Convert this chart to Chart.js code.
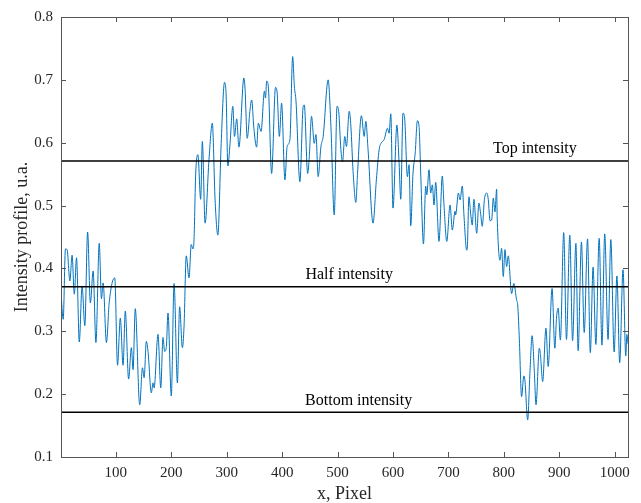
<!DOCTYPE html>
<html>
<head>
<meta charset="utf-8">
<script src="https://cdn.jsdelivr.net/npm/chart.js@4.4.0/dist/chart.umd.min.js"></script>
<style>
  html, body { margin: 0; padding: 0; background: #fff; }
  #wrap { width: 641px; height: 503px; }
</style>
</head>
<body>
<div id="wrap"><canvas id="chart" width="641" height="503"></canvas></div>
<script>
// profile (pixel index, intensity)
const pixelX = [1, 5, 9, 12, 17, 21, 25, 29, 34, 39, 44, 49, 54, 59, 64, 70, 74, 77, 83, 88,
  98, 103, 108, 113, 117, 123, 128, 131, 135, 143, 148, 151, 155, 158, 164, 167, 169, 176, 181, 185,
  188, 191, 194, 200, 205, 211, 215, 220, 223, 227, 232, 236, 239, 241, 244, 248, 253, 256, 261, 268,
  274, 279, 284, 290, 296, 299, 302, 306, 311, 314, 318, 322, 331, 333, 337, 342, 345, 349, 354, 357,
  362, 368, 370, 372, 375, 381, 388, 391, 395, 399, 405, 409, 414, 419, 422, 425, 432, 438, 440, 446,
  449, 453, 458, 461, 465, 470, 474, 483, 488, 494, 499, 502, 506, 509, 513, 516, 521, 524, 528, 533,
  536, 543, 548, 551, 555, 564, 570, 575, 579, 584, 590, 593, 596, 600, 607, 611, 614, 618, 621, 626,
  629, 632, 636, 640, 644, 647, 650, 655, 659, 661, 665, 668, 671, 674, 677, 683, 689, 692, 697, 703,
  707, 712, 713, 718, 721, 725, 728, 733, 734, 737, 740, 743, 746, 751, 755, 758, 761, 765, 769, 772,
  775, 778, 781, 784, 787, 788, 793, 796, 799, 802, 805, 808, 814, 818, 823, 825, 828, 832, 836, 838,
  843, 847, 851, 855, 858, 864, 866, 870, 876, 880, 887, 892, 895, 898, 902, 908, 913, 919, 924, 930,
  934, 940, 945, 951, 956, 961, 966, 972, 977, 982, 988, 993, 999, 1004, 1009, 1015, 1020, 1022, 1024];
const intensity = [0.361, 0.319, 0.431, 0.430, 0.380, 0.421, 0.359, 0.417, 0.283, 0.372, 0.309, 0.458, 0.345, 0.396, 0.282, 0.440, 0.352, 0.377, 0.282, 0.346,
  0.385, 0.246, 0.321, 0.246, 0.332, 0.224, 0.274, 0.239, 0.336, 0.183, 0.242, 0.226, 0.284, 0.268, 0.202, 0.218, 0.210, 0.295, 0.210, 0.290,
  0.268, 0.274, 0.329, 0.197, 0.376, 0.218, 0.339, 0.274, 0.308, 0.420, 0.385, 0.438, 0.431, 0.446, 0.550, 0.581, 0.510, 0.602, 0.472, 0.573,
  0.631, 0.509, 0.453, 0.599, 0.696, 0.674, 0.563, 0.599, 0.658, 0.610, 0.638, 0.593, 0.703, 0.687, 0.607, 0.652, 0.668, 0.623, 0.593, 0.631,
  0.618, 0.682, 0.671, 0.698, 0.690, 0.551, 0.688, 0.679, 0.610, 0.663, 0.541, 0.594, 0.605, 0.737, 0.690, 0.666, 0.538, 0.658, 0.660, 0.551,
  0.578, 0.642, 0.599, 0.613, 0.546, 0.594, 0.610, 0.700, 0.626, 0.485, 0.658, 0.650, 0.589, 0.570, 0.610, 0.594, 0.650, 0.626, 0.554, 0.505,
  0.551, 0.643, 0.610, 0.634, 0.589, 0.472, 0.541, 0.589, 0.600, 0.605, 0.623, 0.615, 0.646, 0.496, 0.628, 0.568, 0.510, 0.647, 0.639, 0.546,
  0.565, 0.468, 0.550, 0.583, 0.635, 0.626, 0.552, 0.439, 0.531, 0.517, 0.557, 0.520, 0.533, 0.501, 0.537, 0.443, 0.547, 0.501, 0.443, 0.501,
  0.461, 0.491, 0.485, 0.520, 0.509, 0.531, 0.485, 0.429, 0.432, 0.514, 0.488, 0.469, 0.510, 0.456, 0.504, 0.488, 0.467, 0.510, 0.520, 0.509,
  0.476, 0.477, 0.512, 0.490, 0.526, 0.482, 0.413, 0.432, 0.387, 0.430, 0.403, 0.420, 0.360, 0.376, 0.350, 0.342, 0.286, 0.196, 0.229, 0.222,
  0.159, 0.233, 0.293, 0.236, 0.183, 0.273, 0.263, 0.220, 0.305, 0.244, 0.368, 0.273, 0.321, 0.337, 0.286, 0.457, 0.287, 0.453, 0.285, 0.440,
  0.269, 0.442, 0.298, 0.447, 0.266, 0.402, 0.279, 0.448, 0.278, 0.455, 0.287, 0.446, 0.267, 0.388, 0.250, 0.398, 0.261, 0.295, 0.280];

const levelNames = ["Top intensity", "Half intensity", "Bottom intensity"];
const levelValues = [0.571, 0.371, 0.171];
const levelLabelX = [856, 521, 538];

const xTicks = [100, 200, 300, 400, 500, 600, 700, 800, 900, 1000];
const yTicks = [0.1, 0.2, 0.3, 0.4, 0.5, 0.6, 0.7, 0.8];

const serif = '"Liberation Serif", "Times New Roman", serif';
const inkColor = "#262626";

const profile = pixelX.map((x, i) => ({ x: x, y: intensity[i] }));

const levelSets = levelValues.map((v, i) => ({
    label: levelNames[i],
    data: [{ x: 1, y: v }, { x: 1024, y: v }],
    borderColor: "#000",
    borderWidth: 1.5,
    pointRadius: 0
}));

// box round the plot with inward ticks on all four sides, like matlab
const boxPlugin = {
    id: "box",
    afterDatasetsDraw(chart) {
        const { ctx, chartArea: a, scales } = chart;
        const len = 5;
        ctx.save();
        ctx.strokeStyle = "#555";
        ctx.lineWidth = 1;
        ctx.beginPath();
        xTicks.forEach(v => {
            const px = Math.round(scales.x.getPixelForValue(v)) + 0.5;
            ctx.moveTo(px, a.bottom); ctx.lineTo(px, a.bottom - len);
            ctx.moveTo(px, a.top); ctx.lineTo(px, a.top + len);
        });
        yTicks.forEach(v => {
            const py = Math.round(scales.y.getPixelForValue(v)) + 0.5;
            ctx.moveTo(a.left, py); ctx.lineTo(a.left + len, py);
            ctx.moveTo(a.right, py); ctx.lineTo(a.right - len, py);
        });
        ctx.stroke();
        ctx.strokeRect(Math.round(a.left) + 0.5, Math.round(a.top) + 0.5,
            Math.round(a.right - a.left), Math.round(a.bottom - a.top));

        // level names above their lines
        ctx.fillStyle = "#000";
        ctx.font = "16px " + serif;
        ctx.textAlign = "center";
        ctx.textBaseline = "bottom";
        levelNames.forEach((t, i) => {
            ctx.fillText(t, scales.x.getPixelForValue(levelLabelX[i]),
                scales.y.getPixelForValue(levelValues[i]) - 4);
        });
        ctx.restore();
    }
};

new Chart(document.getElementById("chart"), {
    type: "line",
    data: {
        datasets: [
            ...levelSets,
            {
                label: "profile",
                data: profile,
                borderColor: "rgb(0, 114, 189)",
                borderWidth: 1,
                pointRadius: 0,
                cubicInterpolationMode: "monotone"
            }
        ]
    },
    options: {
        responsive: false,
        animation: false,
        layout: { padding: { top: 17, right: 13, left: 0, bottom: 0 } },
        plugins: { legend: { display: false }, tooltip: { enabled: false } },
        scales: {
            x: {
                type: "linear",
                min: 1,
                max: 1024,
                afterBuildTicks: s => { s.ticks = xTicks.map(v => ({ value: v })); },
                afterFit: s => { s.height = 46; },
                grid: { display: false, drawTicks: false },
                border: { display: false },
                ticks: { font: { family: serif, size: 15 }, color: inkColor, padding: 7, maxRotation: 0, autoSkip: false, callback: v => String(v) },
                title: { display: true, text: "x, Pixel", font: { family: serif, size: 18 }, color: inkColor, padding: { top: 0, bottom: -2 } }
            },
            y: {
                min: 0.1,
                max: 0.8,
                afterBuildTicks: s => { s.ticks = yTicks.map(v => ({ value: v })); },
                afterFit: s => { s.width = 61; },
                grid: { display: false, drawTicks: false },
                border: { display: false },
                ticks: { font: { family: serif, size: 15 }, color: inkColor, padding: 8, callback: v => v.toFixed(1) },
                title: { display: true, text: "Intensity profile, u.a.", font: { family: serif, size: 18 }, color: inkColor, padding: { top: 11, bottom: 0 } }
            }
        }
    },
    plugins: [boxPlugin]
});
</script>
</body>
</html>
